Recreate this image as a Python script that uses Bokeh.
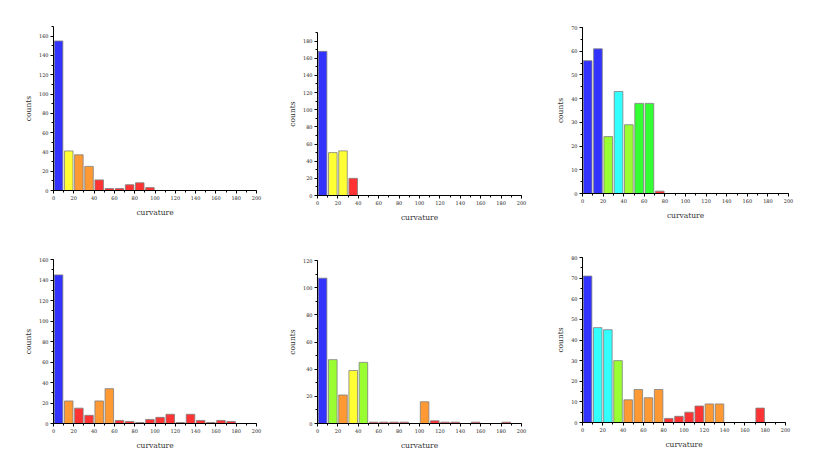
from bokeh.plotting import figure
from bokeh.layouts import column, row
from bokeh.models import SingleIntervalTicker, Range1d
from bokeh.embed import file_html
from bokeh.resources import INLINE

BLUE = "#3333ff"; YEL = "#ffff33"; ORA = "#ff9933"; RED = "#ff3333"
CYA = "#33ffff"; LGR = "#99ff33"; GRN = "#33ff33"

bin_width = 10

counts_1 = [155, 41, 37, 25, 11, 2, 2, 6, 8, 3]
colors_1 = [BLUE, YEL, ORA, ORA, RED, RED, RED, RED, RED, RED]

counts_2 = [168, 50, 52, 20]
colors_2 = [BLUE, YEL, YEL, RED]

counts_3 = [56, 61, 24, 43, 29, 38, 38, 1]
colors_3 = [BLUE, BLUE, LGR, CYA, LGR, GRN, GRN, RED]

counts_4 = [145, 22, 15, 8, 22, 34, 3, 2, 1, 4, 6, 9, 1, 9, 3, 1, 3, 2]
colors_4 = [BLUE, ORA, RED, RED, ORA, ORA] + [RED] * 12

counts_5 = [107, 47, 21, 39, 45, 1, 1, 1, 1, 0, 16, 2, 1, 1, 0, 1, 0, 0, 1]
colors_5 = [BLUE, LGR, ORA, YEL, LGR, RED, RED, RED, RED, RED, ORA, RED,
            RED, RED, RED, RED, RED, RED, RED]

counts_6 = [71, 46, 45, 30, 11, 16, 12, 16, 2, 3, 5, 8, 9, 9, 0, 0, 0, 7]
colors_6 = [BLUE, CYA, CYA, LGR, ORA, ORA, ORA, ORA, RED, RED, RED, RED,
            ORA, ORA, RED, RED, RED, RED]

y_max = [170, 190, 70, 160, 120, 80]
y_step = [20, 20, 10, 20, 20, 10]

panels = [(counts_1, colors_1), (counts_2, colors_2), (counts_3, colors_3),
          (counts_4, colors_4), (counts_5, colors_5), (counts_6, colors_6)]

FIG_W = 265
ROW_H = [233, 227]
# frame geometry per panel: (left border, top border, frame width, frame height)
geom = [(53, 26, 203, 164), (52, 32, 204, 163), (52, 27, 206, 166),
        (53, 26, 203, 164), (52, 27, 204, 163), (52, 24, 203, 165)]

TICK_FONT = "DejaVu Serif"
LABEL_FONT = "DejaVu Serif"

figs = []
for k, (cnt, col) in enumerate(panels):
    bl, bt, fw, fh = geom[k]
    H = ROW_H[k // 3]
    p = figure(frame_width=fw, frame_height=fh, output_backend="svg",
               toolbar_location=None,
               x_range=Range1d(0, 200), y_range=Range1d(0, y_max[k]),
               min_border_left=bl, min_border_right=FIG_W - fw - bl,
               min_border_top=bt, min_border_bottom=H - fh - bt)
    centers = [i * bin_width + bin_width / 2 for i in range(len(cnt))]
    p.vbar(x=centers, top=cnt, bottom=0, width=8.4, fill_color=col,
           line_color="#7f7f7f", line_width=0.8)
    p.xgrid.visible = False
    p.ygrid.visible = False
    p.outline_line_color = None
    p.background_fill_color = "white"
    p.border_fill_color = "white"
    p.xaxis.ticker = SingleIntervalTicker(interval=20, num_minor_ticks=2)
    p.yaxis.ticker = SingleIntervalTicker(interval=y_step[k], num_minor_ticks=2)
    p.xaxis.axis_label = "curvature"
    p.yaxis.axis_label = "counts"
    for ax in (p.xaxis, p.yaxis):
        ax.axis_line_color = "black"
        ax.axis_line_width = 1
        ax.major_tick_line_color = "black"
        ax.minor_tick_line_color = "black"
        ax.major_tick_in = 0
        ax.major_tick_out = 3
        ax.minor_tick_in = 0
        ax.minor_tick_out = 2
        ax.major_label_text_font = TICK_FONT
        ax.major_label_text_font_size = "5px"
        ax.major_label_text_color = "#222222"
        ax.axis_label_text_font = LABEL_FONT
        ax.axis_label_text_font_size = "7.5px"
        ax.axis_label_text_font_style = "normal"
        ax.axis_label_text_color = "#333333"
        ax.major_label_standoff = 2
    p.yaxis.axis_label_standoff = 3
    p.xaxis.axis_label_standoff = 5
    figs.append(p)

layout = row(column(figs[0], figs[3]), column(figs[1], figs[4]),
             column(figs[2], figs[5]))
open("out.html", "w").write(file_html(layout, INLINE))
